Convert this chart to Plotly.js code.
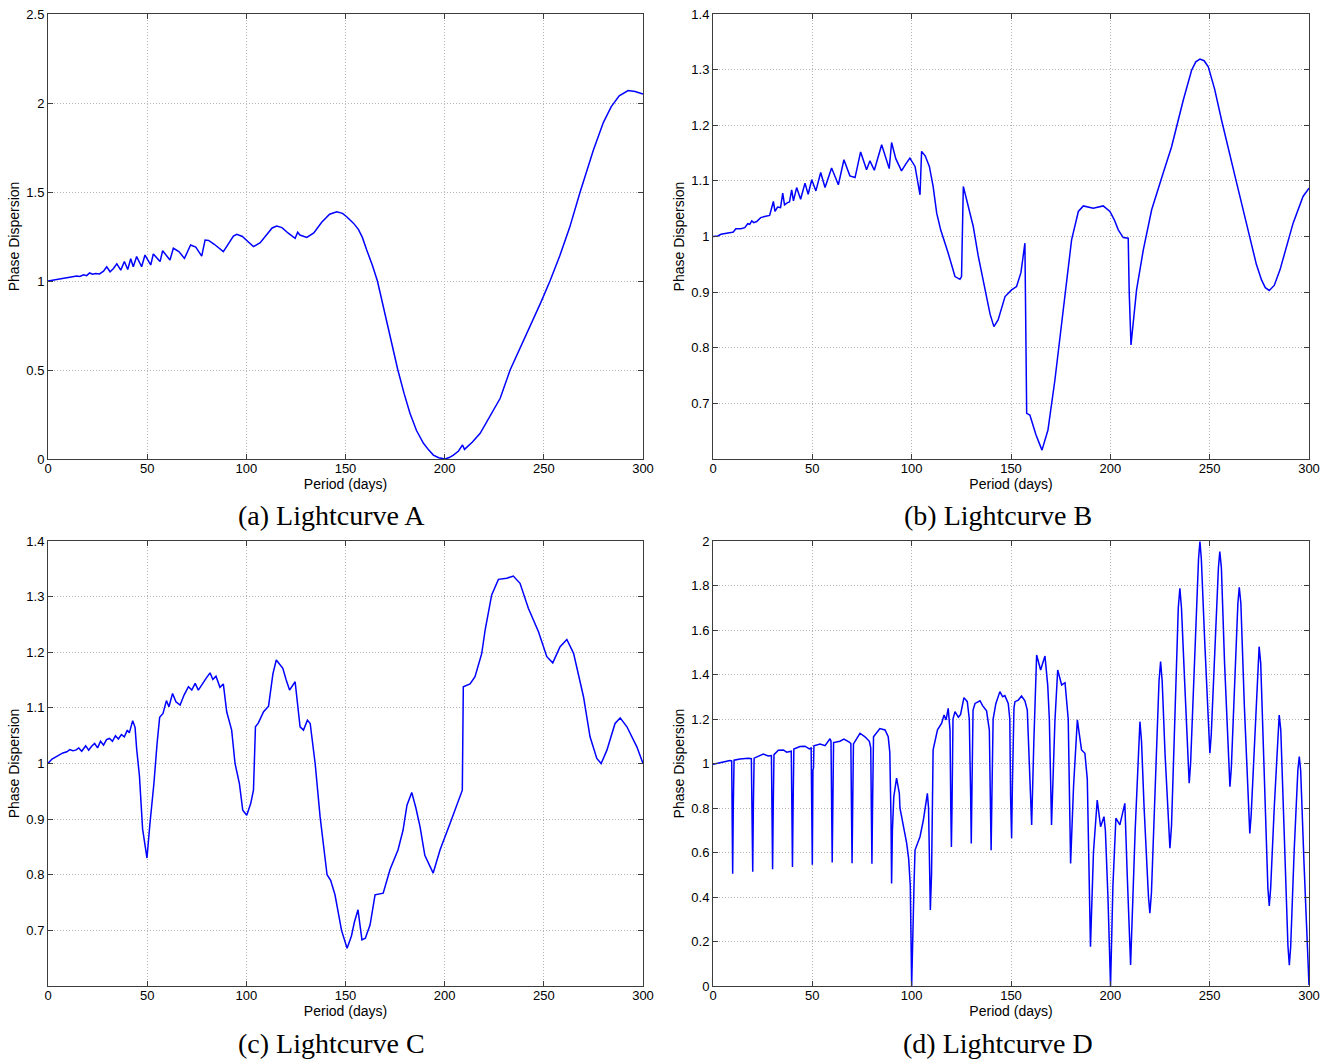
<!DOCTYPE html>
<html>
<head>
<meta charset="utf-8">
<script src="https://cdn.plot.ly/plotly-3.0.1.min.js"></script>
<style>
html,body{margin:0;padding:0;background:#fff;}
#chart{width:1338px;height:1059px;}
</style>
</head>
<body>
<div id="chart"></div>
<script>
// ---- Data ----
const xTicks = [0, 50, 100, 150, 200, 250, 300];
const xTickText = ["0", "50", "100", "150", "200", "250", "300"];

const yTicksA = [0, 0.5, 1, 1.5, 2, 2.5];
const yTickTextA = ["0", "0.5", "1", "1.5", "2", "2.5"];
const yTicksBC = [0.7, 0.8, 0.9, 1.0, 1.1, 1.2, 1.3, 1.4];
const yTickTextBC = ["0.7", "0.8", "0.9", "1", "1.1", "1.2", "1.3", "1.4"];
const yTicksD = [0, 0.2, 0.4, 0.6, 0.8, 1.0, 1.2, 1.4, 1.6, 1.8, 2.0];
const yTickTextD = ["0", "0.2", "0.4", "0.6", "0.8", "1", "1.2", "1.4", "1.6", "1.8", "2"];

const captions = ["(a) Lightcurve A", "(b) Lightcurve B", "(c) Lightcurve C", "(d) Lightcurve D"];

// Lightcurve A
const periodA = [0, 5, 10, 14.5, 16, 18, 19.5, 21, 22.5, 24, 26, 28, 29.6, 31.3, 33, 34.7, 36.7, 38.5, 40.2, 41.7,
  43.0, 44.7, 47.2, 48.9, 51.8, 53.1, 56.5, 57.8, 61.5, 63.2, 66, 68.8, 71.9, 74.5, 77.5, 79.2, 81, 84, 88.4, 91.5,
  93.5, 95.2, 98, 100.5, 103.6, 107, 110, 113, 115.3, 118, 121, 124.6, 125.9, 127, 130.5, 134, 138, 142, 145.6, 148.5,
  150.6, 154, 156.5, 158.5, 160.7, 163.5, 166.1, 171.2, 176.4, 179.5, 182.5, 185.8, 189.3, 192, 194.3, 197, 200.2, 202.3, 204.4, 207,
  209, 210, 214, 217.9, 223, 228, 233, 238, 243.5, 248.5, 253.1, 258, 263, 268.3, 275, 280, 284, 288, 292.5, 296, 300];
const dispA = [1.0, 1.01, 1.02, 1.028, 1.025, 1.035, 1.03, 1.045, 1.038, 1.042, 1.04, 1.055, 1.08, 1.052, 1.07, 1.096, 1.061, 1.11, 1.065, 1.125,
  1.08, 1.137, 1.08, 1.146, 1.09, 1.152, 1.109, 1.17, 1.118, 1.184, 1.165, 1.127, 1.202, 1.19, 1.14, 1.23, 1.228, 1.205, 1.165, 1.22,
  1.252, 1.262, 1.25, 1.225, 1.193, 1.215, 1.26, 1.298, 1.309, 1.3, 1.27, 1.24, 1.274, 1.258, 1.245, 1.27, 1.33, 1.375, 1.389, 1.38,
  1.361, 1.325, 1.29, 1.245, 1.174, 1.09, 1.0, 0.75, 0.5, 0.37, 0.257, 0.16, 0.088, 0.05, 0.022, 0.007, 0.0, 0.008, 0.022, 0.045,
  0.079, 0.054, 0.095, 0.144, 0.24, 0.341, 0.5, 0.62, 0.75, 0.88, 1.0, 1.14, 1.3, 1.5, 1.736, 1.89, 1.98, 2.04, 2.07, 2.065, 2.05];

// Lightcurve B
const periodB = [0, 2.5, 4, 7, 9, 10.2, 11.5, 14, 16, 17.5, 18.5, 19.5, 20.5, 22, 24, 26, 28.5, 30.4, 31.2, 32.5,
  34, 35.1, 36, 37.5, 38.5, 39.6, 40.5, 42.1, 44.1, 46.3, 47.9, 49.7, 51.8, 54.2, 56.4, 59.7, 63.1, 65.9, 68.9, 71.5,
  74.3, 77.3, 79, 81.2, 84.9, 88.7, 89.9, 92, 94.9, 97, 99.1, 101.7, 104.2, 105, 106.8, 108.9, 110.8, 112.6, 114.6, 118.4, 121.8, 124.3,
  125.1, 126, 128.5, 131, 133.5, 137.4, 139.5, 141.4, 143.5, 147, 150.3, 152.8, 155, 157, 157.5, 157.9, 159.5, 162.6, 165.6, 168.6, 172.1, 175.6, 178, 180.5,
  183.9, 186.4, 191.4, 196.4, 199.8, 202, 204, 206.5, 209, 209.5, 210.4, 213.2, 216.6, 220.8, 226.6, 230.8, 236.7, 240.9, 243, 245.1, 247.2, 249.3, 252.5, 256,
  263.6, 270.3, 273.5, 276.1, 278, 280, 282.5, 285.4, 292, 297, 300];
const dispB = [1.0, 1.001, 1.004, 1.005, 1.007, 1.008, 1.014, 1.014, 1.016, 1.023, 1.022, 1.028, 1.025, 1.027, 1.034, 1.036, 1.038, 1.063, 1.045, 1.053,
  1.052, 1.078, 1.057, 1.061, 1.062, 1.084, 1.064, 1.088, 1.067, 1.096, 1.076, 1.102, 1.082, 1.115, 1.088, 1.123, 1.093, 1.138, 1.109, 1.106,
  1.152, 1.12, 1.136, 1.119, 1.165, 1.122, 1.169, 1.14, 1.118, 1.13, 1.141, 1.126, 1.075, 1.153, 1.145, 1.126, 1.09, 1.042, 1.012, 0.97, 0.928, 0.923,
  0.928, 1.09, 1.055, 1.018, 0.965, 0.898, 0.86, 0.838, 0.85, 0.892, 0.904, 0.91, 0.935, 0.988, 0.84, 0.682, 0.679, 0.643, 0.616, 0.652, 0.742, 0.85, 0.913, 0.994,
  1.045, 1.055, 1.051, 1.055, 1.045, 1.03, 1.012, 0.998, 0.997, 0.9, 0.805, 0.904, 0.976, 1.048, 1.114, 1.161, 1.245, 1.299, 1.314, 1.319, 1.316, 1.305, 1.265, 1.209,
  1.096, 0.994, 0.95, 0.922, 0.908, 0.903, 0.912, 0.94, 1.024, 1.072, 1.087];

// Lightcurve C
const periodC = [0, 2, 4, 5.5, 7.5, 9.5, 11, 12.5, 14, 15.5, 17, 19, 20.5, 22, 23.5, 25, 26.5, 28, 29.5, 31,
  32.5, 34, 35.5, 37, 38.5, 40, 41, 42.7, 43.9, 44.7, 46.1, 47.7, 49.9, 51.4, 53.4, 55, 56.3, 58, 59.7, 61,
  62.8, 64.5, 66.6, 68.6, 70.8, 72.5, 74.2, 75.8, 78.4, 79.7, 81.7, 83.1, 84.7, 86.7, 88.4, 90.1, 92.6, 94.3, 96.5, 98.2,
  100.2, 102.2, 103.6, 104.6, 106.1, 108.7, 111.2, 113.4, 115.1, 118.4, 120.1, 121.8, 124.6, 127.1, 128.8, 130.8, 132.2, 134.7, 137.2, 140.7,
  142.5, 144.7, 148, 150.8, 153, 154.5, 156.3, 158.3, 160, 162.4, 164.9, 169, 172.5, 176.5, 179, 181, 183.4, 185.5, 187.6, 190,
  194.2, 197.7, 202.7, 208.9, 209.4, 212.8, 215.3, 218.7, 220.4, 223.7, 227.1, 231.3, 234.6, 238, 242.2, 247.3, 251.5, 254.5, 258.2, 261.6,
  265, 270, 273.3, 276.7, 278.9, 281.8, 285.9, 288.5, 291.9, 296.9, 300];
const dispC = [1.0, 1.008, 1.012, 1.015, 1.019, 1.021, 1.025, 1.023, 1.024, 1.028, 1.022, 1.032, 1.024, 1.031, 1.036, 1.028, 1.04, 1.033, 1.043, 1.045,
  1.04, 1.05, 1.044, 1.052, 1.048, 1.06, 1.055, 1.077, 1.065, 1.026, 0.978, 0.882, 0.83, 0.892, 0.964, 1.036, 1.083, 1.09, 1.113, 1.102,
  1.126, 1.111, 1.105, 1.123, 1.138, 1.132, 1.144, 1.132, 1.147, 1.153, 1.163, 1.151, 1.157, 1.137, 1.143, 1.093, 1.06, 1.0, 0.964, 0.916,
  0.907, 0.928, 0.952, 1.066, 1.073, 1.093, 1.103, 1.161, 1.186, 1.171, 1.15, 1.132, 1.147, 1.066, 1.06, 1.078, 1.072, 1.0, 0.904, 0.8,
  0.79, 0.764, 0.70, 0.668, 0.69, 0.715, 0.737, 0.683, 0.686, 0.71, 0.764, 0.767, 0.81, 0.845, 0.88, 0.925, 0.948, 0.92, 0.886, 0.835,
  0.803, 0.845, 0.892, 0.952, 1.138, 1.143, 1.156, 1.198, 1.24, 1.303, 1.331, 1.333, 1.337, 1.324, 1.279, 1.237, 1.192, 1.181, 1.21, 1.223,
  1.198, 1.12, 1.048, 1.009, 1.0, 1.024, 1.072, 1.082, 1.066, 1.03, 1.0];

// Lightcurve D
const periodD = [0, 3, 5.2, 8.5, 9.4, 9.7, 9.9, 10.2, 10.6, 13.6, 17.8, 19.3, 19.7, 20, 20.3, 20.7, 25.3, 27.8, 29.4, 29.7,
  30, 30.3, 30.7, 32.9, 35.4, 37.1, 39.4, 39.7, 40, 40.3, 40.7, 43.8, 46.3, 48.5, 49.4, 49.7, 50, 50.3, 50.6, 50.8,
  53.9, 56.4, 58.9, 59.4, 59.7, 60, 60.3, 60.7, 63.9, 65.9, 68.6, 69.4, 69.7, 70, 70.3, 70.7, 74, 76.5, 78.7, 79.4,
  79.7, 80, 80.3, 80.8, 84, 86.6, 88.2, 89, 89.6, 89.9, 90.3, 91, 92.4, 93.8, 94.1, 95.8, 97.5, 98.5, 99.3, 100,
  100.6, 101.2, 101.7, 104.2, 105.9, 106.7, 107.9, 108.5, 109.4, 110, 110.8, 113, 115.1, 116.3, 117.3, 118.4, 119.3, 119.7, 120, 120.3,
  120.8, 121.8, 123.5, 124.6, 126.3, 128, 129, 129.7, 130, 130.3, 130.9, 131.9, 134.4, 135.7, 137.7, 139.1, 139.7, 140, 140.3, 141,
  142.4, 144.4, 145.8, 146.9, 148.6, 149.4, 149.8, 150.3, 150.7, 151.5, 152, 153.7, 155.3, 157, 158.2, 159.3, 160.4, 161.5, 162.9, 164.9,
  167.1, 168.5, 169.3, 170.4, 171.5, 172.1, 173.5, 175.5, 177.2, 178.8, 180, 181.5, 183.4, 185.5, 187.2, 188.4, 190, 191.5, 193.4, 195.1,
  196.8, 197.5, 198.8, 200.1, 201.3, 202.8, 204.8, 207.3, 208.5, 210.2, 212.5, 214.2, 214.9, 215.7, 217, 219.2, 219.9, 220.7, 222.5, 224.5,
  225.3, 226.1, 227.5, 229.3, 230, 230.8, 232.5, 234.2, 235, 235.8, 237.5, 239, 239.7, 240.4, 242.5, 244.4, 245.1, 245.8, 247.5, 249.4,
  250.1, 250.8, 252.5, 254.4, 255.1, 255.9, 257.5, 259.5, 260.2, 260.9, 262.5, 264.2, 264.9, 265.7, 267.5, 269.5, 270.2, 270.9, 272.5, 274.2,
  274.9, 275.7, 277.5, 279.3, 280, 280.7, 282.5, 284.3, 285, 285.8, 287.5, 289.4, 290.1, 290.8, 292.5, 294.4, 295.1, 295.8, 297.5, 300];
const dispD = [0.996, 1.003, 1.008, 1.013, 1.012, 0.75, 0.505, 0.8, 1.015, 1.02, 1.024, 1.022, 0.77, 0.513, 0.8, 1.024, 1.042, 1.034, 1.036, 0.78,
  0.525, 0.8, 1.04, 1.06, 1.061, 1.051, 1.055, 0.8, 0.535, 0.8, 1.065, 1.076, 1.078, 1.066, 1.07, 0.8, 0.545, 0.97, 0.98, 1.08,
  1.088, 1.08, 1.111, 1.1, 0.8, 0.555, 0.8, 1.094, 1.1, 1.11, 1.096, 1.09, 0.8, 0.552, 0.8, 1.088, 1.136, 1.12, 1.1, 1.07,
  0.8, 0.55, 0.8, 1.12, 1.157, 1.151, 1.12, 1.05, 0.75, 0.461, 0.7, 0.85, 0.934, 0.866, 0.8, 0.72, 0.641, 0.57, 0.45, 0.0,
  0.3, 0.46, 0.611, 0.671, 0.746, 0.79, 0.866, 0.8, 0.342, 0.5, 1.061, 1.151, 1.181, 1.218, 1.196, 1.248, 1.15, 0.8, 0.625, 0.8,
  1.2, 1.233, 1.208, 1.22, 1.296, 1.278, 1.2, 0.85, 0.64, 0.85, 1.24, 1.27, 1.282, 1.26, 1.237, 1.15, 0.8, 0.61, 0.8, 1.2,
  1.27, 1.323, 1.3, 1.305, 1.27, 1.2, 0.85, 0.664, 0.9, 1.25, 1.278, 1.285, 1.303, 1.282, 1.24, 1.0, 0.724, 1.1, 1.488, 1.42,
  1.483, 1.35, 1.2, 0.724, 1.0, 1.19, 1.42, 1.353, 1.363, 1.2, 0.551, 0.9, 1.196, 1.061, 1.046, 0.93, 0.177, 0.6, 0.836, 0.716,
  0.761, 0.7, 0.4, 0.0, 0.45, 0.754, 0.724, 0.821, 0.5, 0.094, 0.7, 1.1, 1.188, 1.1, 0.8, 0.4, 0.327, 0.42, 0.9, 1.37,
  1.458, 1.37, 1.05, 0.7, 0.619, 0.72, 1.2, 1.7, 1.787, 1.7, 1.35, 1.0, 0.911, 1.0, 1.5, 1.92, 1.997, 1.92, 1.55, 1.13,
  1.046, 1.13, 1.5, 1.88, 1.952, 1.88, 1.45, 0.98, 0.896, 0.98, 1.35, 1.72, 1.792, 1.72, 1.25, 0.77, 0.686, 0.77, 1.1, 1.45,
  1.525, 1.45, 0.95, 0.44, 0.36, 0.44, 0.8, 1.15, 1.218, 1.15, 0.65, 0.18, 0.094, 0.18, 0.6, 0.97, 1.031, 0.97, 0.55, 0.004];

// ---- Layout geometry ----
const W = 1338, H = 1059;
const colX = [[48, 643], [713, 1309]];
const rowY = [[14, 459], [541, 986]];
const capX = [331, 998];
const capY = [516, 1043];

const panels = [
  {x: periodA, y: dispA, yr: [0, 2.5], yt: yTicksA, ytt: yTickTextA, c: 0, r: 0},
  {x: periodB, y: dispB, yr: [0.6, 1.4], yt: yTicksBC, ytt: yTickTextBC, c: 1, r: 0},
  {x: periodC, y: dispC, yr: [0.6, 1.4], yt: yTicksBC, ytt: yTickTextBC, c: 0, r: 1},
  {x: periodD, y: dispD, yr: [0, 2], yt: yTicksD, ytt: yTickTextD, c: 1, r: 1}
];

const sans = "Liberation Sans, Arial, sans-serif";
const axisCommon = {
  showline: true, linecolor: '#3c3c3c', linewidth: 1, mirror: 'ticks',
  ticks: 'inside', ticklen: 5, tickwidth: 1, tickcolor: '#3c3c3c',
  showgrid: true, gridcolor: '#b4b4b4', gridwidth: 1, griddash: '1px,2px',
  zeroline: false, fixedrange: true,
  tickfont: {family: sans, size: 13, color: '#000'}
};

const data = [];
const layout = {
  width: W, height: H,
  margin: {l: 0, r: 0, t: 0, b: 0},
  paper_bgcolor: '#fff', plot_bgcolor: '#fff',
  showlegend: false,
  annotations: []
};

panels.forEach((p, i) => {
  const n = i + 1;
  const xa = 'xaxis' + (n === 1 ? '' : n);
  const ya = 'yaxis' + (n === 1 ? '' : n);
  const xref = 'x' + (n === 1 ? '' : n);
  const yref = 'y' + (n === 1 ? '' : n);
  data.push({
    type: 'scatter', mode: 'lines', x: p.x, y: p.y, xaxis: xref, yaxis: yref,
    line: {color: '#0000ff', width: 1.5}, hoverinfo: 'skip'
  });
  const cx = colX[p.c], ry = rowY[p.r];
  layout[xa] = Object.assign({}, axisCommon, {
    domain: [cx[0] / W, cx[1] / W], anchor: yref, range: [0, 300],
    tickmode: 'array', tickvals: xTicks, ticktext: xTickText,
    ticklabelstandoff: -3,
    title: {text: 'Period (days)', font: {family: sans, size: 14, color: '#000'}, standoff: 0}
  });
  layout[ya] = Object.assign({}, axisCommon, {
    domain: [1 - ry[1] / H, 1 - ry[0] / H], anchor: xref, range: p.yr,
    tickmode: 'array', tickvals: p.yt, ticktext: p.ytt,
    title: {text: 'Phase Dispersion', font: {family: sans, size: 14, color: '#000'}, standoff: 3}
  });
  layout.annotations.push({
    xref: 'paper', yref: 'paper', x: capX[p.c] / W, y: 1 - capY[p.r] / H,
    xanchor: 'center', yanchor: 'middle', showarrow: false,
    text: captions[i],
    font: {family: 'Liberation Serif, Times New Roman, serif', size: 28, color: '#000'}
  });
});

Plotly.newPlot('chart', data, layout, {staticPlot: true, displayModeBar: false});
</script>
</body>
</html>
